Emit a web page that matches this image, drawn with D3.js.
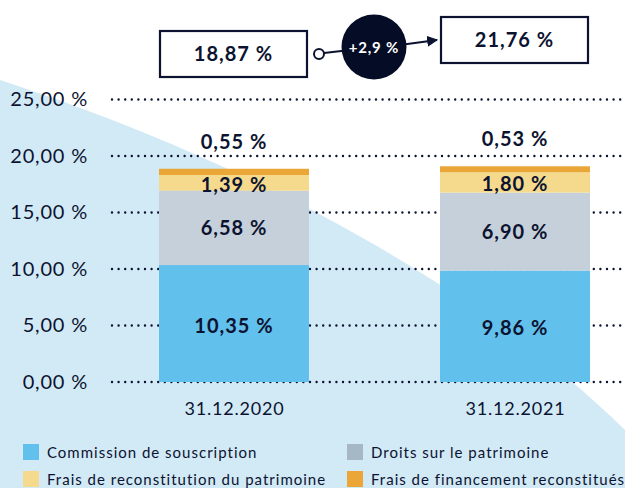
<!DOCTYPE html>
<html>
<head>
<meta charset="utf-8">
<script src="https://cdn.jsdelivr.net/npm/d3@7"></script>
<style>
  body { margin: 0; background: #fff; }
  svg { display: block; font-family: Lato, "Open Sans", sans-serif; }
</style>
</head>
<body>
<script>
let width = 625, height = 488;

// data
const dates = ["31.12.2020", "31.12.2021"];
const series = ["Commission de souscription", "Droits sur le patrimoine",
                "Frais de reconstitution du patrimoine", "Frais de financement reconstitués"];
const commission = [10.35, 9.86];
const droits = [6.58, 6.90];
const reconstitution = [1.39, 1.80];
const financement = [0.55, 0.53];
const totals = [18.87, 21.76];
const change = "+2,9 %";
const yTicks = [0, 5, 10, 15, 20, 25];

const colors = ["#62c0ed", "#c5d0da", "#f5da8e", "#eaa636"];
const legendColors = ["#62c0ed", "#a6b8c5", "#f5da8e", "#eaa636"];
const ink = "#0c1330";

const locale = d3.formatLocale({decimal: ",", thousands: " ", grouping: [3], currency: ["", ""]});
const fmt = locale.format(".2f");
const pct = v => fmt(v) + " %";

let y = d3.scaleLinear().domain([0, 25]).range([382, 99.5]);
let x = d3.scalePoint().domain(dates).range([234, 515]);
const barW = 150;

const svg = d3.select("body").append("svg")
    .attr("width", width).attr("height", height);

// background shape
svg.append("path")
    .attr("d", "M0,80 C200,145 450,260 625,430 L625,488 L0,488 Z")
    .attr("fill", "#d2e9f6");

// grid lines (dotted)
svg.append("g").selectAll("line")
    .data(yTicks).enter().append("line")
    .attr("x1", 112).attr("x2", width)
    .attr("y1", d => y(d)).attr("y2", d => y(d))
    .attr("stroke", ink)
    .attr("stroke-width", 2.4)
    .attr("stroke-linecap", "round")
    .attr("stroke-dasharray", "0,6.6");

// y axis labels
const yAxis = d3.axisLeft(y).tickValues(yTicks).tickSize(0).tickPadding(0).tickFormat(pct);
svg.append("g")
    .attr("transform", "translate(88,0)")
    .call(yAxis)
    .call(g => g.select(".domain").remove())
    .selectAll("text")
    .attr("fill", ink)
    .style("font-size", "20px")
    .style("letter-spacing", "0.8px")
    .style("font-family", "Lato, sans-serif");

// stacked bars
const rows = dates.map((d, i) => ({date: d, vals: [commission[i], droits[i], reconstitution[i], financement[i]]}));
const stack = d3.stack().keys([0, 1, 2, 3]).value((d, k) => d.vals[k]);
const layers = stack(rows);

layers.forEach((layer, k) => {
    svg.append("g").selectAll("rect")
        .data(layer).enter().append("rect")
        .attr("x", d => x(d.data.date) - barW / 2)
        .attr("width", barW)
        .attr("y", d => y(d[1]))
        .attr("height", d => y(d[0]) - y(d[1]))
        .attr("fill", colors[k]);

    svg.append("g").selectAll("text")
        .data(layer).enter().append("text")
        .attr("x", d => x(d.data.date))
        .attr("y", d => k === 3 ? y(d[1]) - 27 : (y(d[0]) + y(d[1])) / 2 + (k === 1 ? 0 : 2))
        .attr("dy", "0.35em")
        .attr("text-anchor", "middle")
        .attr("fill", ink)
        .style("font-size", "20px")
        .style("letter-spacing", "1px")
        .style("font-weight", "bold")
        .text(d => pct(d.data.vals[k]));
});

// x axis labels
const xAxis = d3.axisBottom(x).tickSize(0).tickPadding(0);
svg.append("g")
    .attr("transform", "translate(0,402)")
    .call(xAxis)
    .call(g => g.select(".domain").remove())
    .selectAll("text")
    .attr("fill", ink)
    .style("font-size", "18px")
    .style("letter-spacing", "0.8px")
    .style("font-family", "Lato, sans-serif");

// total boxes on top
const boxes = [{x: 160, y: 31, v: totals[0]}, {x: 441, y: 17, v: totals[1]}];
boxes.forEach(b => {
    svg.append("rect")
        .attr("x", b.x).attr("y", b.y)
        .attr("width", 147).attr("height", 46)
        .attr("fill", "#fff").attr("stroke", ink).attr("stroke-width", 2.2);
    svg.append("text")
        .attr("x", b.x + 73.5).attr("y", b.y + 23)
        .attr("dy", "0.35em")
        .attr("text-anchor", "middle")
        .attr("fill", ink)
        .style("font-size", "20px")
        .style("letter-spacing", "1px")
        .style("font-weight", "bold")
        .text(pct(b.v));
});

// connector with change bubble
svg.append("defs").append("marker")
    .attr("id", "arrow").attr("viewBox", "0 0 10 10")
    .attr("refX", 9).attr("refY", 5)
    .attr("markerWidth", 5).attr("markerHeight", 5)
    .attr("orient", "auto")
    .append("path").attr("d", "M0,0 L10,5 L0,10 Z").attr("fill", ink);

svg.append("line")
    .attr("x1", 324).attr("y1", 53).attr("x2", 350).attr("y2", 50)
    .attr("stroke", ink).attr("stroke-width", 2.2);
svg.append("circle")
    .attr("cx", 319).attr("cy", 54).attr("r", 5)
    .attr("fill", "#fff").attr("stroke", ink).attr("stroke-width", 2);
svg.append("line")
    .attr("x1", 400).attr("y1", 45).attr("x2", 437).attr("y2", 40)
    .attr("stroke", ink).attr("stroke-width", 2.2)
    .attr("marker-end", "url(#arrow)");
svg.append("circle")
    .attr("cx", 374).attr("cy", 47).attr("r", 32.5)
    .attr("fill", "#040c26");
svg.append("text")
    .attr("x", 374).attr("y", 48).attr("dy", "0.35em")
    .attr("text-anchor", "middle")
    .attr("fill", "#fff")
    .style("font-size", "15px")
    .style("letter-spacing", "0.8px")
    .style("font-weight", "bold")
    .text(change);

// legend
const legend = svg.append("g").selectAll("g")
    .data(series).enter().append("g")
    .attr("transform", (d, i) => `translate(${i % 2 === 0 ? 23 : 347},${i < 2 ? 444 : 471})`);
legend.append("rect")
    .attr("width", 16).attr("height", 16)
    .attr("fill", (d, i) => legendColors[i]);
legend.append("text")
    .attr("x", 24).attr("y", 8.5).attr("dy", "0.35em")
    .attr("fill", ink)
    .style("font-size", "15px")
    .style("letter-spacing", "1px")
    .text(d => d);
</script>
</body>
</html>
